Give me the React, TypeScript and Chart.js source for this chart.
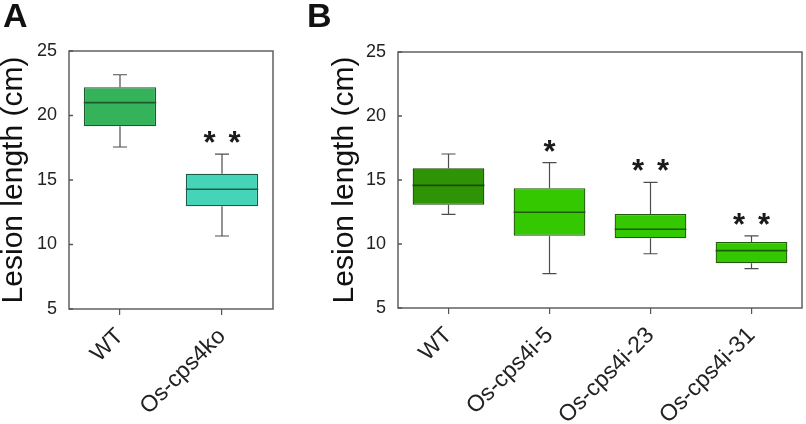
import React, { useEffect, useRef } from 'react';
import { Chart, registerables } from 'chart.js';

Chart.register(...registerables);

// ---------- Panel A ----------
const catsA = ['WT', 'Os-cps4ko'];
const minA = [17.56, 10.66];
const q1A = [19.16, 12.96];
const medA = [21.0, 14.28];
const q3A = [22.19, 15.49];
const maxA = [23.16, 17.0];
const starsA = [0, 2];
const colorsA = ['#35b35a', '#45d4b8'];
const edgeA = ['#1d5a30', '#1d5a48'];

// ---------- Panel B ----------
const catsB = ['WT', 'Os-cps4i-5', 'Os-cps4i-23', 'Os-cps4i-31'];
const minB = [12.32, 7.68, 9.24, 8.07];
const q1B = [13.07, 10.65, 10.45, 8.49];
const medB = [14.58, 12.48, 11.15, 9.48];
const q3B = [15.91, 14.35, 12.34, 10.16];
const maxB = [17.03, 16.35, 14.82, 10.63];
const starsB = [0, 1, 2, 2];
const colorsB = ['#2e9405', '#33c800', '#33c800', '#33c800'];
const edgeB = ['#1d4a0c', '#1f5a0a', '#1f5a0a', '#1f5a0a'];

const yMin = 5;
const yMax = 25;
const yStep = 5;
const yTitle = 'Lesion length (cm)';

const FONT = '"Liberation Sans", Arial, Helvetica, sans-serif';

const boxPlugin = {
  id: 'boxExtras',
  afterDatasetsDraw(chart: any, _args: any, opts: any) {
    const { ctx, chartArea, scales } = chart;
    const xs = scales.x;
    const ys = scales.y;
    const meta = chart.getDatasetMeta(0);
    ctx.save();
    for (let i = 0; i < opts.med.length; i++) {
      const px = xs.getPixelForValue(i);
      const bar = meta.data[i];
      const w = bar.width;
      // whiskers
      ctx.strokeStyle = '#4d4d4d';
      ctx.lineWidth = 1.2;
      ctx.beginPath();
      ctx.moveTo(px, ys.getPixelForValue(opts.q3[i]));
      ctx.lineTo(px, ys.getPixelForValue(opts.max[i]));
      ctx.moveTo(px - 7, ys.getPixelForValue(opts.max[i]));
      ctx.lineTo(px + 7, ys.getPixelForValue(opts.max[i]));
      ctx.moveTo(px, ys.getPixelForValue(opts.q1[i]));
      ctx.lineTo(px, ys.getPixelForValue(opts.min[i]));
      ctx.moveTo(px - 7, ys.getPixelForValue(opts.min[i]));
      ctx.lineTo(px + 7, ys.getPixelForValue(opts.min[i]));
      ctx.stroke();
      // median
      ctx.strokeStyle = opts.edge[i];
      ctx.lineWidth = 1.6;
      ctx.beginPath();
      const my = ys.getPixelForValue(opts.med[i]);
      ctx.moveTo(px - w / 2, my);
      ctx.lineTo(px + w / 2, my);
      ctx.stroke();
      // stars
      const n = opts.stars[i];
      if (n > 0) {
        ctx.fillStyle = '#1a1a1a';
        ctx.font = `bold 31px ${FONT}`;
        ctx.textAlign = 'center';
        ctx.textBaseline = 'alphabetic';
        const m = ctx.measureText('*');
        const cy = ys.getPixelForValue(opts.max[i]) - 17;
        const by = cy + (m.actualBoundingBoxAscent - m.actualBoundingBoxDescent) / 2;
        if (n === 1) {
          ctx.fillText('*', px, by);
        } else {
          ctx.fillText('*', px - 12.5, by);
          ctx.fillText('*', px + 12.5, by);
        }
      }
    }
    // frame
    ctx.strokeStyle = '#555';
    ctx.lineWidth = 1.4;
    ctx.strokeRect(chartArea.left, chartArea.top, chartArea.right - chartArea.left, chartArea.bottom - chartArea.top);
    // inner y ticks
    ctx.beginPath();
    for (let v = yMin; v <= yMax; v += yStep) {
      const py = ys.getPixelForValue(v);
      ctx.moveTo(chartArea.left, py);
      ctx.lineTo(chartArea.left + 4, py);
    }
    ctx.stroke();
    // panel letter
    ctx.fillStyle = '#111';
    ctx.font = `bold 34px ${FONT}`;
    ctx.textAlign = 'left';
    ctx.textBaseline = 'alphabetic';
    ctx.fillText(opts.letter, opts.letterX, 26.5);
    ctx.restore();
  },
};

function makeConfig(p: any) {
  return {
    type: 'bar' as const,
    data: {
      labels: p.cats,
      datasets: [
        {
          data: p.cats.map((_: string, i: number) => [p.q1[i], p.q3[i]]),
          backgroundColor: p.colors,
          borderColor: p.edge,
          borderWidth: 1.3,
          borderSkipped: false,
          categoryPercentage: 1,
          barPercentage: p.barPct,
        },
      ],
    },
    options: {
      animation: false,
      responsive: false,
      maintainAspectRatio: false,
      layout: { padding: p.padding },
      plugins: {
        legend: { display: false },
        tooltip: { enabled: false },
        boxExtras: {
          q1: p.q1, q3: p.q3, med: p.med, min: p.min, max: p.max,
          stars: p.stars, edge: p.edge, letter: p.letter, letterX: p.letterX,
        },
      },
      scales: {
        x: {
          type: 'category',
          offset: true,
          grid: {
            display: true,
            drawOnChartArea: false,
            drawTicks: true,
            tickLength: 6,
            color: '#555',
            lineWidth: 1.2,
            offset: false,
          },
          border: { display: false },
          ticks: {
            autoSkip: false,
            minRotation: 45,
            maxRotation: 45,
            padding: 8,
            color: '#222',
            font: { family: FONT, size: 23 },
          },
          afterFit: (s: any) => { s.height = p.xHeight; },
        },
        y: {
          min: yMin,
          max: yMax,
          grid: { display: false, drawTicks: false },
          border: { display: false },
          ticks: {
            stepSize: yStep,
            padding: 12,
            color: '#222',
            font: { family: FONT, size: 18 },
          },
          title: {
            display: true,
            text: yTitle,
            color: '#111',
            padding: 0,
            font: { family: FONT, size: 30, lineHeight: 0.9 },
          },
          afterFit: (s: any) => { s.width = p.yWidth; },
        },
      },
    },
    plugins: [boxPlugin],
  };
}

function Panel(props: any) {
  const ref = useRef<HTMLCanvasElement>(null);
  useEffect(() => {
    const chart = new Chart(ref.current as HTMLCanvasElement, makeConfig(props.p) as any);
    return () => chart.destroy();
  }, []);
  return (
    <canvas
      ref={ref}
      width={props.w}
      height={424}
      style={{ position: 'absolute', left: props.left, top: 0, width: props.w, height: 424 }}
    />
  );
}

const panelA = {
  cats: catsA, q1: q1A, q3: q3A, med: medA, min: minA, max: maxA,
  stars: starsA, colors: colorsA, edge: edgeA, letter: 'A', letterX: 3,
  padding: { top: 51, right: 27, left: 0, bottom: 0 },
  yWidth: 69, xHeight: 115, barPct: 0.71,
};

const panelB = {
  cats: catsB, q1: q1B, q3: q3B, med: medB, min: minB, max: maxB,
  stars: starsB, colors: colorsB, edge: edgeB, letter: 'B', letterX: 7,
  padding: { top: 52, right: 4, left: 31, bottom: 0 },
  yWidth: 67, xHeight: 116, barPct: 0.71,
};

export default function App() {
  return (
    <div style={{ position: 'fixed', left: 0, top: 0, width: 806, height: 424, background: '#fff' }}>
      <Panel p={panelA} left={0} w={300} />
      <Panel p={panelB} left={300} w={506} />
    </div>
  );
}
